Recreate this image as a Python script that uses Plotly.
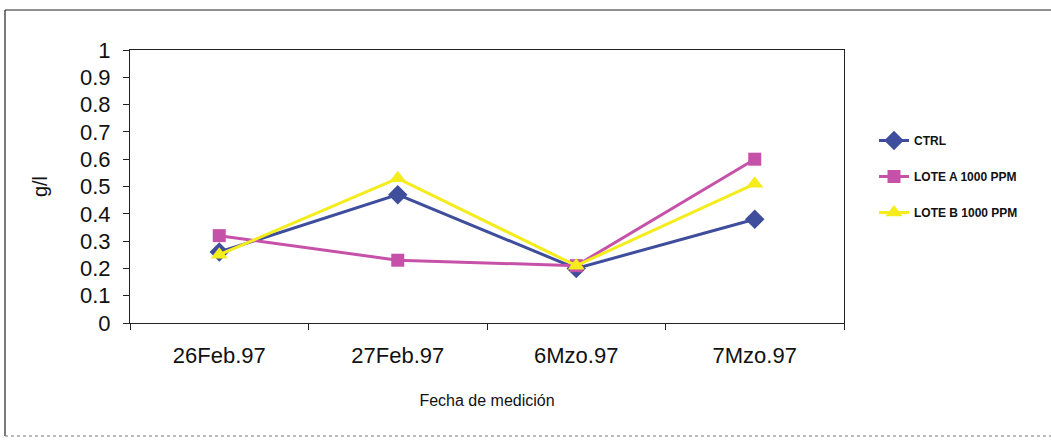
import plotly.graph_objects as go

fechas = ["26Feb.97", "27Feb.97", "6Mzo.97", "7Mzo.97"]
ctrl = [0.26, 0.47, 0.20, 0.38]
lote_a = [0.32, 0.23, 0.21, 0.60]
lote_b = [0.25, 0.53, 0.21, 0.51]

series = [
    ("CTRL", ctrl, "#3F4E9C", "diamond", 15),
    ("LOTE A 1000 PPM", lote_a, "#C651A8", "square", 13),
    ("LOTE B 1000 PPM", lote_b, "#F4EC1C", "triangle-up", 15),
]

fig = go.Figure()
for i, (name, vals, color, symbol, size) in enumerate(series):
    fig.add_trace(go.Scatter(
        x=fechas, y=vals, name=name, mode="lines+markers",
        line=dict(color=color, width=3),
        marker=dict(symbol=symbol, size=size, color=color),
        legendgroup=f"g{i}",
    ))

L, R, T, B = 130, 207, 50, 117
W, H = 1051, 440
pw, ph = W - L - R, H - T - B

def px(x):
    return (x - L) / pw

def py(y):
    return (H - B - y) / ph

# outer chart frame: left and top edges solid, bottom edge dotted
fig.add_shape(type="line", xref="paper", yref="paper",
              x0=px(5), x1=px(5), y0=py(436), y1=py(10),
              line=dict(color="#222222", width=1.2), layer="below")
fig.add_shape(type="line", xref="paper", yref="paper",
              x0=px(5), x1=px(1060), y0=py(10), y1=py(10),
              line=dict(color="#222222", width=1.2), layer="below")
fig.add_shape(type="line", xref="paper", yref="paper",
              x0=px(5), x1=px(1060), y0=py(436), y1=py(436),
              line=dict(color="#777777", width=1.2, dash="dot"), layer="below")

fig.update_layout(
    width=W, height=H,
    margin=dict(l=L, r=R, t=T, b=B),
    paper_bgcolor="white", plot_bgcolor="white",
    font=dict(family="Liberation Sans, Arial, sans-serif", color="#111111"),
    showlegend=True,
    legend=dict(x=px(874), y=py(126), xanchor="left", yanchor="top",
                font=dict(size=12, color="#111111", weight="bold"),
                traceorder="grouped", tracegroupgap=17,
                bgcolor="rgba(0,0,0,0)"),
)

fig.update_xaxes(
    type="category", range=[-0.5, 3.5],
    showline=True, linecolor="#222222", linewidth=1.2, mirror=True,
    ticks="outside", tickson="boundaries", ticklen=6, tickcolor="#222222",
    tickfont=dict(size=22), ticklabelstandoff=12,
    showgrid=False, zeroline=False,
    title=dict(text="Fecha de medición", font=dict(size=16), standoff=28),
)
fig.update_yaxes(
    range=[0, 1], dtick=0.1, tick0=0,
    showline=True, linecolor="#222222", linewidth=1.2, mirror=True,
    ticks="outside", ticklen=6, tickcolor="#222222",
    tickfont=dict(size=22), ticklabelstandoff=8,
    showgrid=False, zeroline=False,
    title=dict(text="g/l", font=dict(size=20), standoff=26),
)

fig.write_html("out.html")
